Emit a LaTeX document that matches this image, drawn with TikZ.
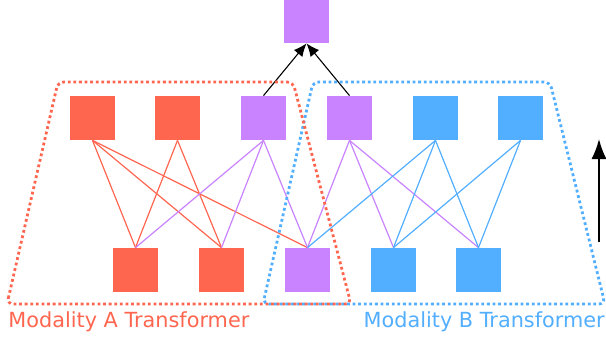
\documentclass[tikz,border=0pt]{standalone}
\usepackage{fontspec}
\setmainfont{DejaVu Sans}
\usetikzlibrary{arrows.meta,positioning}
\definecolor{modA}{HTML}{FF6650}
\definecolor{modB}{HTML}{52AEFF}
\definecolor{shared}{HTML}{C983FF}

\begin{document}
\begin{tikzpicture}[
  x=0.5pt, y=-0.5pt,
  font=\fontsize{10.4pt}{12pt}\selectfont,
  token/.style={rectangle, inner sep=0pt, minimum width=22.5pt, minimum height=22pt},
  tokA/.style={token, fill=modA},
  tokB/.style={token, fill=modB},
  tokS/.style={token, fill=shared},
  attn/.style={line width=0.6pt},
  arrow/.style={-{Latex[length=6.5pt,width=5.5pt]}, draw=black, line width=0.55pt},
  flow/.style={-{Latex[length=10pt,width=7.5pt]}, draw=black, line width=0.8pt},
  region/.style={dash pattern=on 1.4pt off 1.4pt, line width=1.4pt, rounded corners=3pt}
]
\useasboundingbox (0,0) rectangle (606,337);

% fused output token
\node[tokS] (out) at (306.5,21) {};

% upper row of tokens
\node[tokA] (uA1) at (92.5,118) {};
\node[tokA] (uA2) at (177.5,118) {};
\node[tokS] (uS1) at (263.5,118) {};
\node[tokS] (uS2) at (349.5,118) {};
\node[tokB] (uB1) at (435.5,118) {};
\node[tokB] (uB2) at (520.5,118) {};

% lower row of tokens
\node[tokA] (lA1) at (135.5,270) {};
\node[tokA] (lA2) at (221.5,270) {};
\node[tokS] (lS)  at (307.5,270) {};
\node[tokB] (lB1) at (393.5,270) {};
\node[tokB] (lB2) at (478.5,270) {};

% attention links
\foreach \u/\l in {uA1/lA1, uA1/lA2, uA1/lS, uA2/lA1, uA2/lA2}
  \draw[attn, modA] (\u.south) -- (\l.north);
\foreach \u/\l in {uS1/lA1, uS1/lA2, uS1/lS, uS2/lS, uS2/lB1, uS2/lB2}
  \draw[attn, shared] (\u.south) -- (\l.north);
\foreach \u/\l in {uB1/lS, uB1/lB1, uB1/lB2, uB2/lB1, uB2/lB2}
  \draw[attn, modB] (\u.south) -- (\l.north);

\draw[arrow] (uS1.north) -- (out.south);
\draw[arrow] (uS2.north) -- (out.south);

% transformer regions
\draw[region, draw=modB] (263,304) -- (313,82) -- (550,82) -- (605,304) -- cycle;
\draw[region, draw=modA] (7,304) -- (58,82) -- (293,82) -- (351,304) -- cycle;

\node[anchor=base west, text=modA, inner sep=0pt] (labA) at (8,327) {Modality A Transformer};
\node[anchor=base east, text=modB, inner sep=0pt] (labB) at (605,327) {Modality B Transformer};

% direction of flow
\coordinate (flow0) at (599,242);
\coordinate (flow1) at (599,139);
\draw[flow] (flow0) -- (flow1);

\end{tikzpicture}
\end{document}
